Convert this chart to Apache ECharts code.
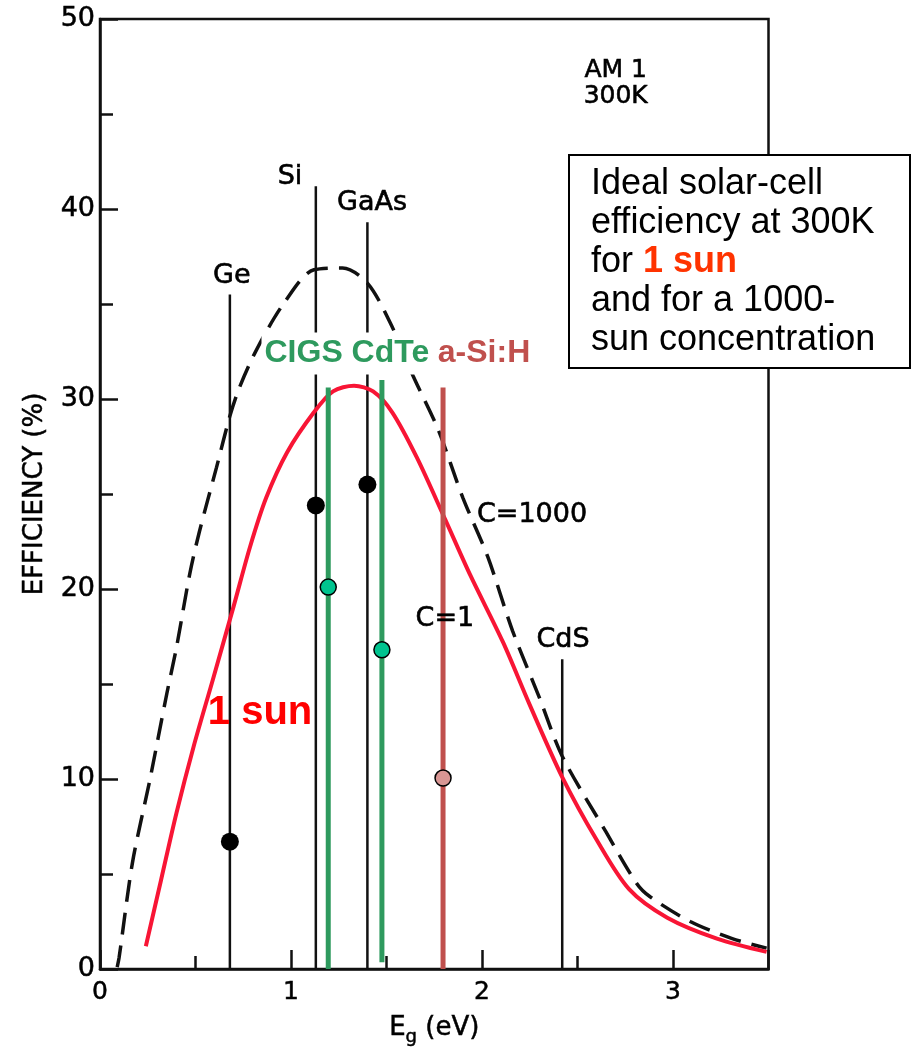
<!DOCTYPE html>
<html>
<head>
<meta charset="utf-8">
<script src="https://cdn.jsdelivr.net/npm/echarts@6/dist/echarts.min.js"></script>
<style>
html, body { margin: 0; padding: 0; background: #fff; }
#chart { width: 912px; height: 1049px; }
</style>
</head>
<body>
<div id="chart"></div>
<script>
// ideal efficiency, 1000-sun concentration (dashed)
var egC1000  = [0.09, 0.10, 0.17, 0.26, 0.35, 0.40, 0.47, 0.52, 0.61, 0.68, 0.73, 0.82, 0.96, 1.12, 1.27, 1.40, 1.52, 1.64, 1.77, 1.90, 2.03, 2.16, 2.30, 2.42, 2.65, 2.81, 2.88, 3.09, 3.31, 3.49];
var effC1000 = [0.1, 0.6, 5.6, 9.9, 14.5, 16.9, 20.8, 23.0, 26.4, 29.1, 30.6, 32.6, 35.0, 36.8, 36.9, 36.1, 34.0, 31.2, 28.4, 24.8, 21.7, 17.8, 14.3, 11.2, 7.2, 4.5, 3.8, 2.5, 1.6, 1.1];
// ideal efficiency, 1 sun (red)
var egC1  = [0.24, 0.32, 0.40, 0.49, 0.59, 0.70, 0.785, 0.87, 0.98, 1.12, 1.22, 1.33, 1.43, 1.53, 1.66, 1.81, 1.94, 2.11, 2.25, 2.42, 2.60, 2.77, 2.97, 3.23, 3.49];
var effC1 = [1.2, 4.7, 8.2, 11.7, 15.2, 19.1, 22.2, 24.8, 27.2, 29.3, 30.4, 30.7, 30.4, 29.3, 26.9, 23.6, 20.7, 17.2, 13.9, 10.1, 6.8, 4.2, 2.7, 1.6, 0.9];

// crystalline semiconductors
var matNames = ['Ge', 'Si', 'GaAs', 'CdS'];
var matEg    = [0.68, 1.13, 1.40, 2.42];
var matTop   = [35.5, 41.2, 39.3, 16.3];
var matCell  = [6.7, 24.4, 25.5, null];

// thin films
var filmNames  = ['CIGS', 'CdTe', 'a-Si:H'];
var filmEg     = [1.195, 1.476, 1.796];
var filmTop    = [30.6, 31.0, 30.6];
var filmBottom = [0, 0.35, 0];
var filmCell   = [20.1, 16.8, 10.05];

var xTickValues = [0, 1, 2, 3];
var yTickValues = [0, 10, 20, 30, 40, 50];

var GREEN = '#2E9A5E';
var BROWN = '#C0504D';
var RED = '#F81535';
var INK = '#111';
var TXT = '#000';

function pairs(xs, ys) {
    return xs.map(function (x, i) { return [x, ys[i]]; });
}

var series = [];

// vertical band-gap lines
matEg.forEach(function (eg, i) {
    series.push({
        name: matNames[i], type: 'line', symbol: 'none', silent: true, z: 2,
        data: [[eg, 0], [eg, matTop[i]]],
        lineStyle: { color: INK, width: 2.5 }
    });
});

series.push({
    name: 'C=1000', type: 'line', symbol: 'none', smooth: 0.3, z: 3,
    data: pairs(egC1000, effC1000),
    lineStyle: { color: INK, width: 3.5, type: [22, 11] }
});
series.push({
    name: 'C=1', type: 'line', symbol: 'none', smooth: 0.3, z: 4,
    data: pairs(egC1, effC1),
    lineStyle: { color: RED, width: 4 }
});

filmEg.forEach(function (eg, i) {
    series.push({
        name: filmNames[i], type: 'line', symbol: 'none', silent: true, z: 5,
        data: [[eg, filmBottom[i]], [eg, filmTop[i]]],
        lineStyle: { color: i < 2 ? GREEN : BROWN, width: 5 }
    });
});

// record cells
series.push({
    type: 'scatter', z: 6, symbolSize: 18,
    itemStyle: { color: '#000', opacity: 1 },
    data: matEg.map(function (eg, i) { return matCell[i] == null ? null : [eg, matCell[i]]; }).filter(Boolean)
});
series.push({
    type: 'scatter', z: 6, symbolSize: 16,
    itemStyle: { borderColor: '#000', borderWidth: 1.5, opacity: 1 },
    data: filmEg.map(function (eg, i) {
        return { value: [eg, filmCell[i]], itemStyle: { color: i < 2 ? '#00C48F' : '#D99694' } };
    })
});

// text annotations placed in data coordinates
function note(x, y, text, extra) {
    return {
        value: [x, y],
        label: Object.assign({
            show: true, position: 'inside', formatter: text,
            fontFamily: 'DejaVu Sans', fontSize: 27, color: TXT,
            textBorderColor: TXT, textBorderWidth: 0.6
        }, extra || {})
    };
}
series.push({
    type: 'scatter', z: 10, symbolSize: 1, silent: true,
    itemStyle: { color: 'rgba(0,0,0,0)', opacity: 1 },
    data: [
        note(0.69, 36.5, 'Ge'),
        note(0.995, 41.7, 'Si'),
        note(1.424, 40.3, 'GaAs'),
        note(2.424, 17.3, 'CdS'),
        note(2.262, 23.9, 'C=1000'),
        note(1.806, 18.4, 'C=1'),
        note(2.70, 46.6, 'AM 1\n300K', { fontSize: 25, lineHeight: 26, align: 'center' }),
        note(0.838, 13.5, '1 sun', { fontFamily: 'Liberation Sans', fontWeight: 'bold', fontSize: 40, color: '#FF0000', textBorderWidth: 0 }),
        note(1.557, 32.4, '{g|CIGS CdTe} {r|a-Si:H}', {
            backgroundColor: '#fff', padding: [5, 3], textBorderWidth: 0,
            rich: {
                g: { fontFamily: 'Liberation Sans', fontWeight: 'bold', fontSize: 32, color: GREEN },
                r: { fontFamily: 'Liberation Sans', fontWeight: 'bold', fontSize: 32, color: BROWN }
            }
        })
    ]
});

var chart = echarts.init(document.getElementById('chart'));
chart.setOption({
    animation: false,
    backgroundColor: '#fff',
    grid: {
        left: 100, right: 143.5, top: 19, bottom: 80,
        show: true, borderColor: INK, borderWidth: 2.5,
        outerBoundsMode: 'none'
    },
    xAxis: [{
        type: 'value', min: 0, max: 3.5, interval: 1, position: 'bottom',
        name: '{e|E}{s|g}{e| (eV)}', nameLocation: 'middle', nameGap: 46,
        nameTextStyle: {
            rich: {
                e: { fontFamily: 'DejaVu Sans', fontSize: 26, color: TXT, lineHeight: 26, verticalAlign: 'top', textBorderColor: TXT, textBorderWidth: 0.5 },
                s: { fontFamily: 'DejaVu Sans', fontSize: 18, color: TXT, lineHeight: 44, textBorderColor: TXT, textBorderWidth: 0.5 }
            }
        },
        axisLine: { lineStyle: { color: INK, width: 2.5 } },
        axisTick: { inside: true, length: 19, lineStyle: { color: INK, width: 2.5 } },
        axisLabel: {
            margin: 11, fontFamily: 'DejaVu Sans', fontSize: 25, color: TXT,
            textBorderColor: TXT, textBorderWidth: 0.5,
            formatter: function (v) { return xTickValues.indexOf(v) >= 0 ? String(v) : ''; }
        },
        splitLine: { show: false }
    }, {
        type: 'value', min: 0, max: 3.5, interval: 0.5, position: 'bottom',
        axisLine: { show: false },
        axisTick: { inside: true, length: 13, lineStyle: { color: INK, width: 2.5 } },
        axisLabel: { show: false },
        splitLine: { show: false }
    }],
    yAxis: {
        type: 'value', min: 0, max: 50, interval: 10,
        name: 'EFFICIENCY (%)', nameLocation: 'middle', nameGap: 52,
        nameTextStyle: { fontFamily: 'DejaVu Sans', fontSize: 26, color: TXT, textBorderColor: TXT, textBorderWidth: 0.5 },
        axisLine: { lineStyle: { color: INK, width: 2.5 } },
        axisTick: { inside: true, length: 18, lineStyle: { color: INK, width: 2.5 } },
        minorTick: { show: true, splitNumber: 2, length: 13, lineStyle: { color: INK, width: 2.5 } },
        axisLabel: {
            margin: 5, fontFamily: 'DejaVu Sans', fontSize: 27, color: TXT,
            textBorderColor: TXT, textBorderWidth: 0.5,
            formatter: function (v) { return yTickValues.indexOf(v) >= 0 ? String(v) : ''; }
        },
        splitLine: { show: false }
    },
    series: series,
    graphic: [{
        type: 'rect', z: 100,
        shape: { x: 569, y: 155, width: 341, height: 213 },
        style: { fill: '#fff', stroke: '#000', lineWidth: 2 }
    }, {
        type: 'text', z: 101,
        style: {
            x: 591, y: 165, verticalAlign: 'top',
            text: '{n|Ideal solar-cell}\n{n|efficiency at 300K}\n{n|for }{r|1 sun}\n{n|and for a 1000-}\n{n|sun concentration}',
            rich: {
                n: { fontFamily: 'Liberation Sans', fontSize: 36, lineHeight: 39, fill: '#000', color: '#000' },
                r: { fontFamily: 'Liberation Sans', fontSize: 36, lineHeight: 39, fontWeight: 'bold', fill: '#FF3300', color: '#FF3300' }
            }
        }
    }]
});
window.onresize = function () { chart.resize(); };
</script>
</body>
</html>
